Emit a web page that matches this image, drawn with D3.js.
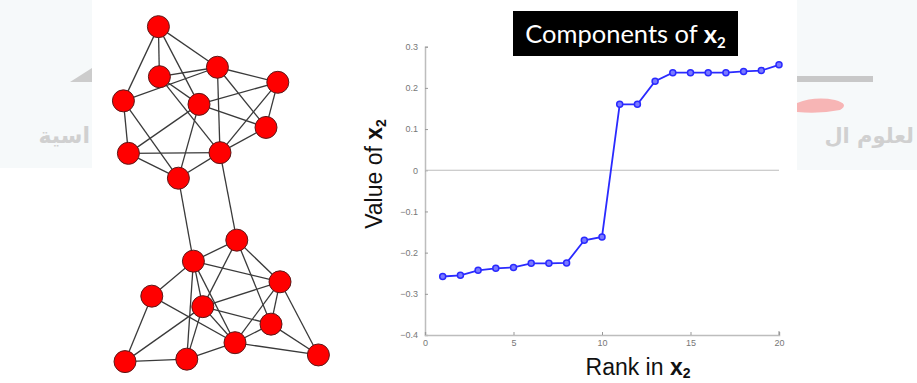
<!DOCTYPE html>
<html><head><meta charset="utf-8">
<script src="https://cdn.jsdelivr.net/npm/d3@7"></script>
<style>html,body{margin:0;padding:0;background:#fff;overflow:hidden}</style>
</head><body>
<svg id="c" width="917" height="383"></svg>
<script>
// ---- Chart data ----
const ranks = d3.range(1, 21);
const values = [-0.258,-0.255,-0.243,-0.238,-0.236,-0.226,-0.226,-0.225,-0.170,-0.162,
                0.160,0.160,0.216,0.237,0.237,0.237,0.237,0.240,0.242,0.256];
const xTicks = [0,5,10,15,20];
const yTicks = [0.3,0.2,0.1,0,-0.1,-0.2,-0.3,-0.4];
const titleText = "Components of ";
const xLabelText = "Rank in ";
const yLabelText = "Value of ";
// ---- Network diagram (layout units 0-100) ----
const nodeIds = ["A","B","C","D","E","F","G","H","I","J","K","L","M","N","O","P","Q","R","S","T"];
const nodeX = [19.2,19.7,48.7,78.9,1.7,39.5,73,4.2,50,29.2,58.4,36.7,80,15.9,41.4,75.5,57.5,2.5,33.4,99.2];
const nodeY = [1.9,16.2,13.5,17.8,23.1,24.1,30.7,38.1,37.9,45.2,62.9,68.9,74.8,78.9,81.9,86.9,92.2,97.6,96.9,95.7];
const edges = [
 ["A","B"],["A","E"],["A","C"],["A","F"],["B","C"],["B","F"],["B","I"],["E","C"],["C","I"],["C","G"],
 ["C","D"],["D","G"],["D","I"],["D","F"],["E","H"],["E","J"],["F","H"],["F","J"],["F","G"],["H","I"],
 ["H","J"],["I","J"],["G","I"],["I","K"],["J","L"],
 ["K","L"],["K","M"],["K","O"],["K","P"],["L","N"],["L","O"],["L","M"],["L","Q"],["L","S"],["N","Q"],
 ["N","R"],["O","M"],["O","P"],["O","Q"],["R","O"],["R","S"],["S","Q"],["Q","P"],["Q","M"],["Q","T"],
 ["P","T"],["M","T"],["P","M"],["S","O"]
];

const svg = d3.select("#c");

// faint watermark background
const wm = svg.append("g");
wm.append("rect").attr("x",0).attr("y",0).attr("width",92).attr("height",168).attr("fill","#f6f9fa");
wm.append("rect").attr("x",797).attr("y",0).attr("width",120).attr("height",170).attr("fill","#f6f9fa");
wm.append("path").attr("d","M70,82 L92,68 L92,82 Z").attr("fill","#cccccc");
wm.append("rect").attr("x",797).attr("y",76).attr("width",76).attr("height",6).attr("fill","#c8c8c8");
wm.append("path").attr("d","M797,103 Q815,96 835,100 Q850,104 840,110 Q820,114 797,112 Z").attr("fill","#f7b5b5");
wm.append("text").attr("x",90).attr("y",143).attr("text-anchor","start").attr("direction","rtl")
  .attr("font-family","DejaVu Sans").attr("font-size",22).attr("font-weight","bold").attr("fill","#d0d0d0").text("اسية");
wm.append("text").attr("x",914).attr("y",143).attr("text-anchor","start").attr("direction","rtl")
  .attr("font-family","DejaVu Sans").attr("font-size",21).attr("font-weight","bold").attr("fill","#d0d0d0").text("لعلوم ال");

// network
const gx = d3.scaleLinear().domain([0,100]).range([120,320]);
const gy = d3.scaleLinear().domain([0,100]).range([20,370]);
const idx = new Map(nodeIds.map((d,i)=>[d,i]));
const net = svg.append("g");
net.selectAll("line").data(edges).join("line")
  .attr("x1",d=>gx(nodeX[idx.get(d[0])])).attr("y1",d=>gy(nodeY[idx.get(d[0])]))
  .attr("x2",d=>gx(nodeX[idx.get(d[1])])).attr("y2",d=>gy(nodeY[idx.get(d[1])]))
  .attr("stroke","#3a3a3a").attr("stroke-width",1.3);
net.selectAll("circle").data(nodeIds).join("circle")
  .attr("cx",(d,i)=>gx(nodeX[i])).attr("cy",(d,i)=>gy(nodeY[i])).attr("r",11)
  .attr("fill","#ff0000").attr("stroke","#5a1a1a").attr("stroke-width",1);

// line chart
const x = d3.scaleLinear().domain([0,20]).range([425,779]);
const y = d3.scaleLinear().domain([-0.4,0.3]).range([335,46.7]);
const axisColor = "#bdbdbd";
const fmt = d3.format(".1f");

const yAxis = svg.append("g").attr("transform",`translate(${x(0)},0)`)
  .call(d3.axisLeft(y).tickValues(yTicks).tickSize(-3).tickPadding(7).tickFormat(d=>d===0?"0":fmt(d)));
const xAxis = svg.append("g").attr("transform",`translate(0,${y(-0.4)})`)
  .call(d3.axisBottom(x).tickValues(xTicks).tickSize(-3).tickPadding(5));
[yAxis,xAxis].forEach(a=>{
  a.select(".domain").attr("stroke",axisColor).attr("stroke-width",1.5);
  a.selectAll(".tick line").attr("stroke","#999");
  a.selectAll(".tick text").attr("fill","#777").attr("font-family","Liberation Sans").attr("font-size",9);
});
svg.append("line").attr("x1",x(20)).attr("x2",x(20)).attr("y1",y(-0.4)).attr("y2",y(-0.4)-4).attr("stroke","#999");
svg.append("line").attr("x1",x(0)).attr("x2",x(20)).attr("y1",y(0)).attr("y2",y(0))
  .attr("stroke",axisColor).attr("stroke-width",1.2);

const line = d3.line().x((d,i)=>x(ranks[i])).y(d=>y(d));
svg.append("path").datum(values).attr("d",line).attr("fill","none").attr("stroke","#2a2aff").attr("stroke-width",1.8);
svg.selectAll("circle.pt").data(values).join("circle").attr("class","pt")
  .attr("cx",(d,i)=>x(ranks[i])).attr("cy",d=>y(d)).attr("r",3)
  .attr("fill","#7a7aff").attr("stroke","#2a2aff").attr("stroke-width",1.5);

// title
svg.append("rect").attr("x",513).attr("y",11).attr("width",225).attr("height",45).attr("fill","#000");
const tt = svg.append("text").attr("x",625.5).attr("y",43).attr("text-anchor","middle")
  .attr("font-family","Lato").attr("font-size",25.5).attr("fill","#fff");
tt.append("tspan").text(titleText);
tt.append("tspan").attr("font-weight","bold").text("x");
tt.append("tspan").attr("font-size",15).attr("font-weight","bold").attr("dy",5).text("2");

// x label
const xl = svg.append("text").attr("x",638).attr("y",375).attr("text-anchor","middle")
  .attr("font-family","Liberation Sans").attr("font-size",23).attr("fill","#111");
xl.append("tspan").text(xLabelText);
xl.append("tspan").attr("font-weight","bold").text("x");
xl.append("tspan").attr("font-size",14).attr("font-weight","bold").attr("dy",3).text("2");

// y label
const yl = svg.append("text").attr("transform","translate(382,174) rotate(-90)").attr("text-anchor","middle")
  .attr("font-family","Liberation Sans").attr("font-size",23).attr("fill","#111");
yl.append("tspan").text(yLabelText);
yl.append("tspan").attr("font-weight","bold").text("x");
yl.append("tspan").attr("font-size",14).attr("font-weight","bold").attr("dy",4).text("2");
</script>
</body></html>
